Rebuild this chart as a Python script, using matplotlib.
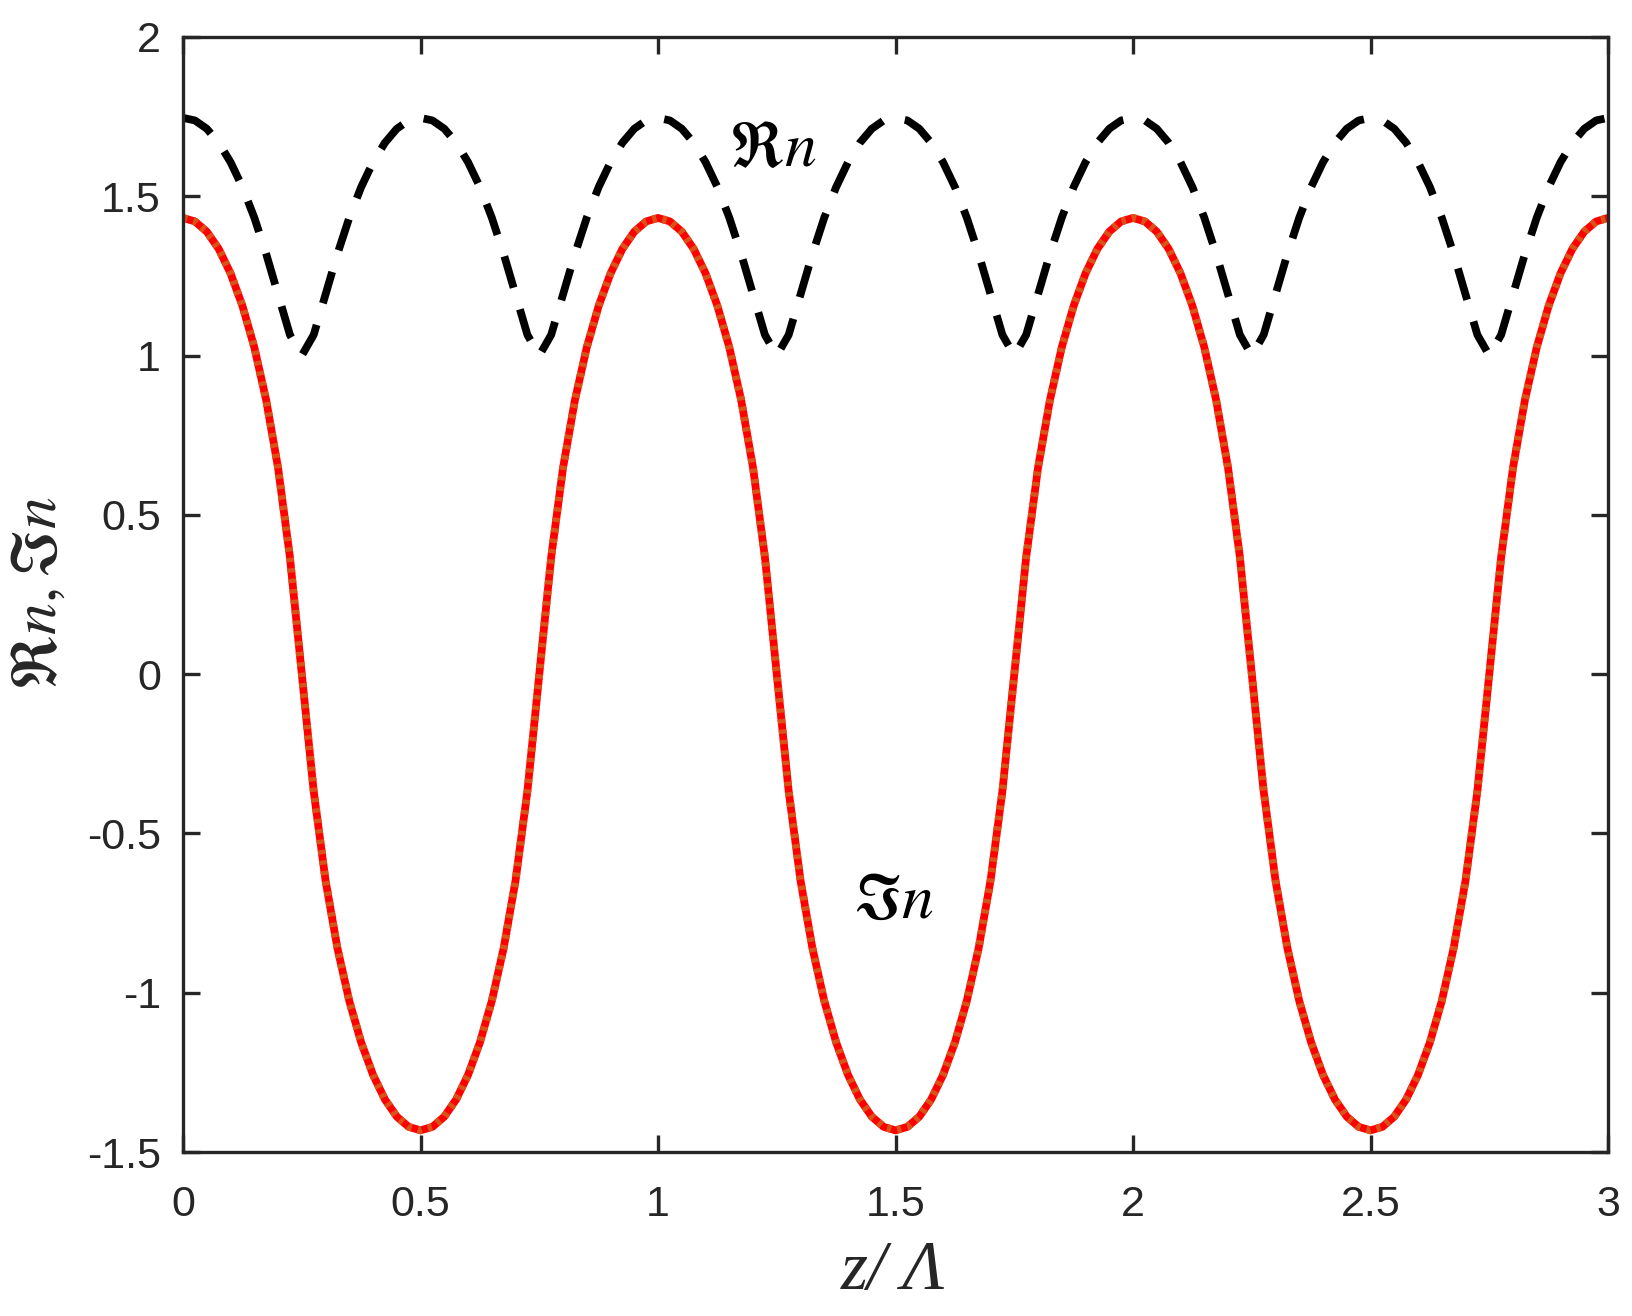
import numpy as np
import matplotlib
matplotlib.use("Agg")
import matplotlib.pyplot as plt

# Datos: z/Lambda de 0 a 3 cada 0.025
z_lambda = np.linspace(0, 3, 121)

# Parte real del indice (linea negra discontinua)
re_n = [
    1.746, 1.738, 1.712, 1.668, 1.607, 1.529, 1.433, 1.319, 1.192, 1.065,
    1.000, 1.065, 1.192, 1.319, 1.433, 1.529, 1.607, 1.668, 1.712, 1.738,
    1.746, 1.738, 1.712, 1.668, 1.607, 1.529, 1.433, 1.319, 1.192, 1.065,
    1.000, 1.065, 1.192, 1.319, 1.433, 1.529, 1.607, 1.668, 1.712, 1.738,
    1.746, 1.738, 1.712, 1.668, 1.607, 1.529, 1.433, 1.319, 1.192, 1.065,
    1.000, 1.065, 1.192, 1.319, 1.433, 1.529, 1.607, 1.668, 1.712, 1.738,
    1.746, 1.738, 1.712, 1.668, 1.607, 1.529, 1.433, 1.319, 1.192, 1.065,
    1.000, 1.065, 1.192, 1.319, 1.433, 1.529, 1.607, 1.668, 1.712, 1.738,
    1.746, 1.738, 1.712, 1.668, 1.607, 1.529, 1.433, 1.319, 1.192, 1.065,
    1.000, 1.065, 1.192, 1.319, 1.433, 1.529, 1.607, 1.668, 1.712, 1.738,
    1.746, 1.738, 1.712, 1.668, 1.607, 1.529, 1.433, 1.319, 1.192, 1.065,
    1.000, 1.065, 1.192, 1.319, 1.433, 1.529, 1.607, 1.668, 1.712, 1.738,
    1.746,
]

# Parte imaginaria del indice (linea roja/naranja)
im_n = [
    1.432, 1.421, 1.389, 1.335, 1.258, 1.156, 1.026, 0.860, 0.648, 0.367,
    0.000, -0.367, -0.648, -0.860, -1.026, -1.156, -1.258, -1.335, -1.389, -1.421,
    -1.432, -1.421, -1.389, -1.335, -1.258, -1.156, -1.026, -0.860, -0.648, -0.367,
    0.000, 0.367, 0.648, 0.860, 1.026, 1.156, 1.258, 1.335, 1.389, 1.421,
    1.432, 1.421, 1.389, 1.335, 1.258, 1.156, 1.026, 0.860, 0.648, 0.367,
    0.000, -0.367, -0.648, -0.860, -1.026, -1.156, -1.258, -1.335, -1.389, -1.421,
    -1.432, -1.421, -1.389, -1.335, -1.258, -1.156, -1.026, -0.860, -0.648, -0.367,
    0.000, 0.367, 0.648, 0.860, 1.026, 1.156, 1.258, 1.335, 1.389, 1.421,
    1.432, 1.421, 1.389, 1.335, 1.258, 1.156, 1.026, 0.860, 0.648, 0.367,
    0.000, -0.367, -0.648, -0.860, -1.026, -1.156, -1.258, -1.335, -1.389, -1.421,
    -1.432, -1.421, -1.389, -1.335, -1.258, -1.156, -1.026, -0.860, -0.648, -0.367,
    0.000, 0.367, 0.648, 0.860, 1.026, 1.156, 1.258, 1.335, 1.389, 1.421,
    1.432,
]

x_ticks = [0, 0.5, 1, 1.5, 2, 2.5, 3]
x_tick_labels = ["0", "0.5", "1", "1.5", "2", "2.5", "3"]
y_ticks = [-1.5, -1, -0.5, 0, 0.5, 1, 1.5, 2]
y_tick_labels = ["-1.5", "-1", "-0.5", "0", "0.5", "1", "1.5", "2"]

plt.rcParams["mathtext.fontset"] = "stix"
gris = "#262626"

fig = plt.figure(figsize=(16.33, 13.16), dpi=100)
ax = fig.add_axes([0.1121, 0.1246, 0.8726, 0.8473])

# Re n: negra discontinua
ax.plot(z_lambda, re_n, color="black", lw=5.6, linestyle=(0, (4.2, 2.9)),
        dash_capstyle="butt")
# Im n: roja con punteado naranja encima
ax.plot(z_lambda, im_n, color="#FF0000", lw=5.6, solid_capstyle="butt")
ax.plot(z_lambda, im_n, color="#D95319", lw=5.6, linestyle=(0, (0.55, 0.8)),
        dash_capstyle="butt")

ax.set_xlim(0, 3)
ax.set_ylim(-1.5, 2)
ax.set_xticks(x_ticks)
ax.set_xticklabels(x_tick_labels, family="Liberation Sans")
ax.set_yticks(y_ticks)
ax.set_yticklabels(y_tick_labels, family="Liberation Sans")
ax.tick_params(direction="in", length=12, width=2.4, top=True, right=True,
               colors=gris, labelsize=31)
ax.tick_params(axis="x", pad=24)
ax.tick_params(axis="y", pad=16)
for s in ax.spines.values():
    s.set_linewidth(2.4)
    s.set_color(gris)

ax.text(1.242, 1.652, r"$\Re n$", fontsize=46, ha="center", va="center")
ax.text(1.495, -0.709, r"$\Im n$", fontsize=46, ha="center", va="center")

fig.text(893 / 1633, 1 - 1272 / 1316, "z/ Λ", family="Liberation Serif",
         style="italic", fontsize=50, ha="center", va="center", color=gris)
fig.text(38 / 1633, 1 - 593 / 1316, r"$\Re n,\Im n$", fontsize=46,
         rotation=90, ha="center", va="center", color=gris)

fig.savefig("out.png", dpi=100)
